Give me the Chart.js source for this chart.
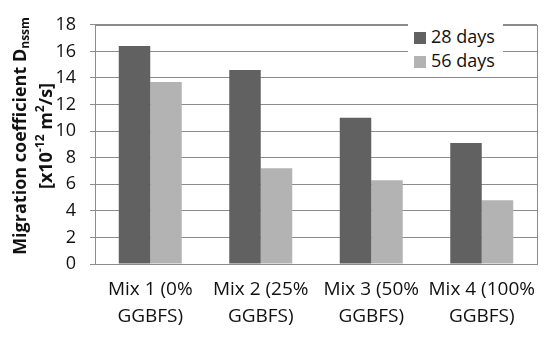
<!DOCTYPE html>
<html>
<head>
<meta charset="utf-8">
<script src="https://cdn.jsdelivr.net/npm/chart.js@4.4.0/dist/chart.umd.min.js"></script>
<style>
  html, body { margin: 0; padding: 0; background: #fff; }
  #wrap { position: relative; width: 550px; height: 339px; }
  #legend {
    position: absolute; left: 408px; top: 24px; background: #fff;
    font-family: 'Open Sans', sans-serif; font-size: 18px; color: #111;
    padding: 0 8px 2px 6px; line-height: 24px;
  }
  #legend span.sw { display: inline-block; width: 12px; height: 12px; margin-right: 5px; vertical-align: -1px; }
</style>
</head>
<body>
<div id="wrap">
  <canvas id="chart" width="550" height="339"></canvas>
  <div id="legend"></div>
</div>
<script>
// data
const categories = [['Mix 1 (0%', 'GGBFS)'], ['Mix 2 (25%', 'GGBFS)'], ['Mix 3 (50%', 'GGBFS)'], ['Mix 4 (100%', 'GGBFS)']];
const days28 = [16.4, 14.6, 11.0, 9.1];
const days56 = [13.7, 7.2, 6.3, 4.8];
const seriesNames = ['28 days', '56 days'];
const seriesColors = ['#616161', '#b3b3b3'];

// rotated two-line y title with sub/superscripts
const yTitle = {
    id: 'yTitle',
    afterDraw(chart) {
        const ctx = chart.ctx;
        const lines = [
            { x: 21, parts: [['Migration coefficient D', 18, 0], ['nssm', 12, 5]] },
            { x: 47, parts: [['[x10', 18, 0], ['-12', 12, -6], [' m', 18, 0], ['2', 12, -6], ['/s]', 18, 0]] }
        ];
        const cy = 136;
        ctx.save();
        ctx.fillStyle = '#111';
        ctx.textBaseline = 'middle';
        ctx.textAlign = 'left';
        lines.forEach(line => {
            let w = 0;
            line.parts.forEach(p => { ctx.font = 'bold ' + p[1] + "px 'Open Sans'"; w += ctx.measureText(p[0]).width; });
            ctx.save();
            ctx.translate(line.x, cy);
            ctx.rotate(-Math.PI / 2);
            let x = -w / 2;
            line.parts.forEach(p => {
                ctx.font = 'bold ' + p[1] + "px 'Open Sans'";
                ctx.fillText(p[0], x, p[2]);
                x += ctx.measureText(p[0]).width;
            });
            ctx.restore();
        });
        ctx.restore();
    }
};

// box around plot area
const plotBorder = {
    id: 'plotBorder',
    afterDatasetsDraw(chart) {
        const a = chart.chartArea, ctx = chart.ctx;
        ctx.save();
        ctx.strokeStyle = '#8c8c8c';
        ctx.lineWidth = 1;
        ctx.strokeRect(Math.round(a.left) + 0.5, Math.round(a.top) + 0.5, Math.round(a.right - a.left), Math.round(a.bottom - a.top));
        ctx.restore();
    }
};

new Chart(document.getElementById('chart'), {
    type: 'bar',
    data: {
        labels: categories,
        datasets: [
            { label: seriesNames[0], data: days28, backgroundColor: seriesColors[0] },
            { label: seriesNames[1], data: days56, backgroundColor: seriesColors[1] }
        ]
    },
    options: {
        responsive: false,
        animation: false,
        layout: { padding: { top: 17, right: 13, left: 0, bottom: 0 } },
        datasets: { bar: { categoryPercentage: 0.57, barPercentage: 1.0 } },
        plugins: { legend: { display: false }, tooltip: { enabled: false } },
        scales: {
            y: {
                min: 0, max: 18,
                ticks: { stepSize: 2, color: '#111', padding: 14, font: { family: "'Open Sans'", size: 18 } },
                grid: { color: '#8c8c8c', tickLength: 5 },
                border: { color: '#8c8c8c' },
                afterFit: s => { s.width = 95; }
            },
            x: {
                grid: { display: false },
                border: { color: '#8c8c8c' },
                ticks: { color: '#111', padding: 4, maxRotation: 0, autoSkip: false, font: { family: "'Open Sans'", size: 19, lineHeight: 1.42 } },
                afterFit: s => { s.height = 75; }
            }
        }
    },
    plugins: [yTitle, plotBorder]
});

document.getElementById('legend').innerHTML = seriesNames.map((n, i) =>
    '<div><span class="sw" style="background:' + seriesColors[i] + '"></span>' + n + '</div>').join('');
</script>
</body>
</html>
